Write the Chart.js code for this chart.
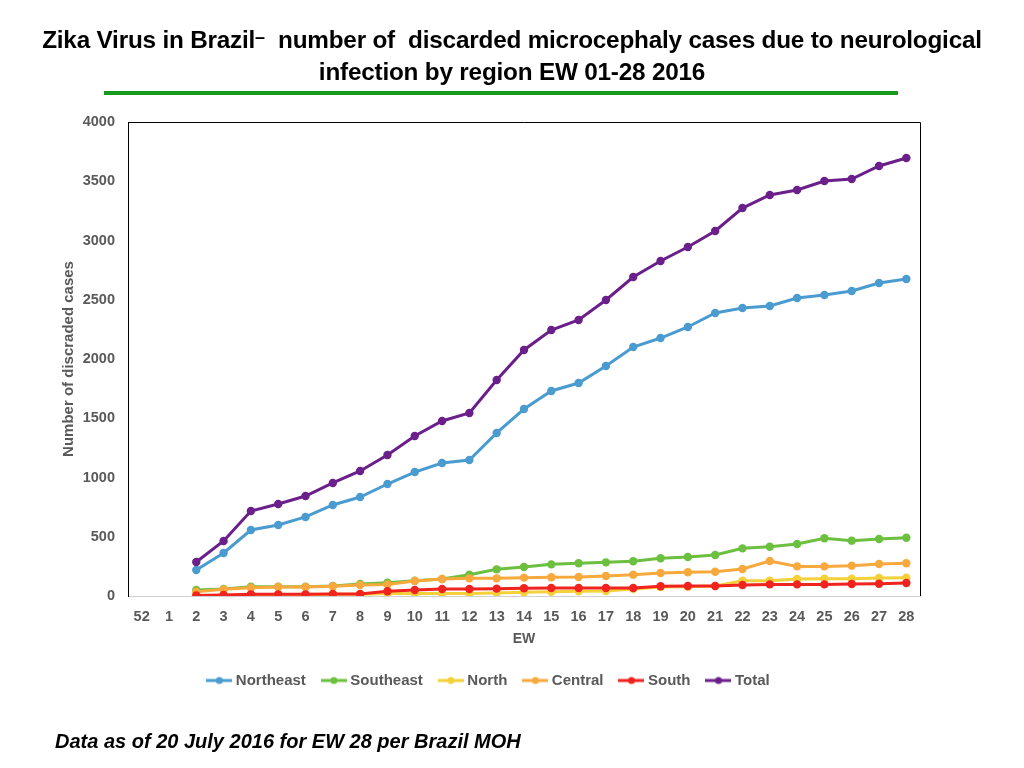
<!DOCTYPE html>
<html>
<head>
<meta charset="utf-8">
<script src="https://cdn.jsdelivr.net/npm/chart.js@4.4.0/dist/chart.umd.min.js"></script>
<style>
  html,body{margin:0;padding:0;background:#fff;width:1024px;height:768px;overflow:hidden;}
  #title{position:absolute;left:0;top:25px;width:1024px;text-align:center;font-family:"Liberation Sans",Arial,sans-serif;font-weight:bold;font-size:24.3px;line-height:30px;color:#000;z-index:2;letter-spacing:-0.2px;}
  #rule{position:absolute;left:104px;top:91px;width:794px;height:4px;background:#16991c;z-index:2;}
  #foot{position:absolute;left:55px;top:730px;font-family:"Liberation Sans",Arial,sans-serif;font-weight:bold;font-style:italic;font-size:20px;color:#000;z-index:2;}
  #wrap{position:absolute;left:0;top:0;width:1024px;height:768px;}
</style>
</head>
<body>
<div id="title">Zika Virus in Brazil<span style="position:relative;top:-5px;font-size:18px">–</span>&nbsp; number of&nbsp; discarded microcephaly cases due to neurological<br>infection by region EW 01-28 2016</div>
<div id="rule"></div>
<div id="wrap"><canvas id="c" width="1024" height="768"></canvas></div>
<div id="foot">Data as of 20 July 2016 for EW 28 per Brazil MOH</div>
<script>
const weeks = ["52","1","2","3","4","5","6","7","8","9","10","11","12","13","14","15","16","17","18","19","20","21","22","23","24","25","26","27","28"];
const northeast = [null,null,219,363,557,599,667,768,835,945,1046,1122,1148,1376,1578,1730,1797,1941,2101,2177,2270,2388,2430,2447,2515,2540,2574,2641,2675];
const southeast = [null,null,51,59,78,78,78,84,101,112,129,143,180,225,245,267,276,284,293,318,329,346,402,416,439,487,467,481,492];
const north     = [null,null,4,7,12,12,12,15,15,22,22,22,22,25,31,36,40,42,60,75,78,84,129,129,143,146,146,152,155];
const central   = [null,null,36,56,70,76,76,82,93,98,127,143,149,149,155,158,160,169,180,194,200,205,228,295,250,250,256,270,276];
const south     = [null,null,5,8,14,14,14,17,17,40,51,59,59,62,65,67,67,67,67,82,84,84,93,98,98,98,101,104,110];
const total     = [null,null,287,464,717,776,844,954,1055,1190,1350,1477,1544,1823,2076,2245,2329,2498,2692,2827,2945,3080,3274,3384,3426,3502,3519,3629,3696];
const yTicks = [0,500,1000,1500,2000,2500,3000,3500,4000];

const seriesNames = ["Northeast","Southeast","North","Central","South","Total"];
const seriesData = [northeast,southeast,north,central,south,total];
const colors = ["#4a9bd0","#6cbf3f","#f4d03a","#f8a93d","#f0231f","#6a1f8a"];

const FONT = '"Liberation Sans", Arial, sans-serif';

function legendIcon(color){
  const cv=document.createElement('canvas');cv.width=26;cv.height=10;
  const x=cv.getContext('2d');
  x.strokeStyle=color;x.lineWidth=3;x.beginPath();x.moveTo(0,5);x.lineTo(26,5);x.stroke();
  x.fillStyle=color;x.beginPath();x.arc(13,5,3.5,0,Math.PI*2);x.fill();
  return cv;
}
const icons = colors.map(legendIcon);

const datasets = seriesNames.map((n,i)=>({
  label:n, data:seriesData[i], borderColor:colors[i], backgroundColor:colors[i],
  borderWidth:3, pointRadius:4.2, pointHoverRadius:4.2, pointBorderWidth:0,
  tension:0, spanGaps:false, order:5-i
}));

const frame = {
  id:'frame',
  afterDraw(chart){
    const {ctx,chartArea:a}=chart;
    ctx.save();ctx.strokeStyle='#000';ctx.lineWidth=1;
    ctx.beginPath();ctx.moveTo(a.left,a.top+0.5);ctx.lineTo(a.right+0.5,a.top+0.5);ctx.lineTo(a.right+0.5,a.bottom);ctx.stroke();
    ctx.restore();
  }
};

new Chart(document.getElementById('c'),{
  type:'line',
  data:{labels:weeks,datasets},
  plugins:[frame],
  options:{
    responsive:false,animation:false,
    layout:{padding:{left:60,right:104,top:122,bottom:70}},
    plugins:{
      tooltip:{enabled:false},
      legend:{
        position:'bottom',
        labels:{
          usePointStyle:true,pointStyleWidth:18,padding:19,
          color:'#595959',font:{family:FONT,size:15,weight:'bold'},
          generateLabels(chart){
            return chart.data.datasets.map((d,i)=>({text:d.label,fillStyle:d.borderColor,strokeStyle:d.borderColor,lineWidth:0,pointStyle:icons[i],datasetIndex:i,hidden:false,fontColor:'#595959'}));
          }
        }
      }
    },
    scales:{
      x:{
        offset:true,
        grid:{display:false,drawTicks:false},
        border:{display:true,color:'#d0d0d0',width:1},
        ticks:{color:'#595959',font:{family:FONT,size:14.5,weight:'bold'},padding:12,maxRotation:0,autoSkip:false},
        title:{display:true,text:'EW',color:'#595959',font:{family:FONT,size:14,weight:'bold'},padding:{top:0,bottom:6}},
        afterFit(s){s.height=58;}
      },
      y:{
        min:0,max:4000,
        afterBuildTicks(s){s.ticks=yTicks.map(v=>({value:v}));},
        grid:{display:false,drawTicks:false},
        border:{display:true,color:'#000',width:1},
        ticks:{color:'#595959',font:{family:FONT,size:14.5,weight:'bold'},padding:13,callback:v=>String(v)},
        title:{display:true,text:'Number of discraded cases',color:'#595959',font:{family:FONT,size:15,weight:'bold'},padding:{top:0,bottom:4}},
        afterFit(s){s.width=68;}
      }
    }
  }
});
</script>
</body>
</html>
